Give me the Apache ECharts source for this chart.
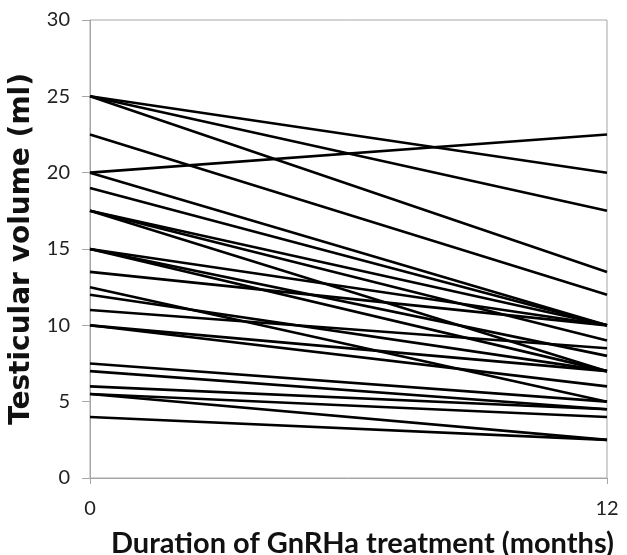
<!DOCTYPE html>
<html>
<head>
<meta charset="utf-8">
<script src="https://cdn.jsdelivr.net/npm/echarts@6/dist/echarts.min.js"></script>
<style>
html,body{margin:0;padding:0;background:#fff;}
#chart{width:627px;height:555px;}
</style>
</head>
<body>
<div id="chart"></div>
<script>
// Timepoints (months of GnRHa treatment)
var months = [0, 12];
// Testicular volume (ml) at start (0 months) for each patient
var startVolumes = [25, 25, 25, 22.5, 20, 20, 19, 17.5, 17.5, 17.5, 15, 15, 15, 13.5, 12.5, 12, 11, 10, 10, 7.5, 7, 6, 5.5, 5.5, 4];
// Testicular volume (ml) after 12 months, same patient order
var endVolumes   = [20, 17.5, 13.5, 12, 22.5, 10, 10, 10, 9, 7, 10, 8, 7, 10, 5, 7, 8.5, 7, 6, 5, 4.5, 4.5, 4, 2.5, 2.5];
var yTicks = [0, 5, 10, 15, 20, 25, 30];
var xTicks = [0, 12];

var series = startVolumes.map(function (s, i) {
  return {
    type: 'line',
    data: [[months[0], s], [months[1], endVolumes[i]]],
    symbol: 'none',
    silent: true,
    lineStyle: { color: '#000', width: 2.6 }
  };
});

var chart = echarts.init(document.getElementById('chart'), null, { renderer: 'canvas' });
chart.setOption({
  animation: false,
  backgroundColor: '#fff',
  grid: { left: 90, right: 20, top: 20, bottom: 77, containLabel: false, outerBoundsMode: 'none',
          show: true, borderColor: '#a6a6a6', borderWidth: 1 },
  xAxis: {
    type: 'value', min: xTicks[0], max: xTicks[xTicks.length - 1], interval: 12,
    name: 'Duration of GnRHa treatment (months)',
    nameLocation: 'middle', nameGap: 51,
    nameTextStyle: { fontFamily: 'Lato', fontWeight: 'bold', fontSize: 29, color: '#111', padding: [0, 0, 0, 28] },
    axisLine: { lineStyle: { color: '#a6a6a6', width: 1 } },
    axisTick: { show: true, length: 6, lineStyle: { color: '#a6a6a6' } },
    axisLabel: { margin: 21, fontFamily: 'Lato', fontSize: 20, color: '#222' },
    splitLine: { show: false }
  },
  yAxis: {
    type: 'value', min: yTicks[0], max: yTicks[yTicks.length - 1], interval: 5,
    name: 'Testicular volume (ml)',
    nameLocation: 'middle', nameGap: 49,
    nameTextStyle: { fontFamily: 'DejaVu Sans', fontWeight: 'bold', fontSize: 28, color: '#111' },
    axisLine: { show: true, lineStyle: { color: '#a6a6a6', width: 1 } },
    axisTick: { show: true, length: 8, lineStyle: { color: '#a6a6a6' } },
    axisLabel: { margin: 20, fontFamily: 'Lato', fontSize: 20, color: '#222' },
    splitLine: { show: false }
  },
  series: series
});
</script>
</body>
</html>
